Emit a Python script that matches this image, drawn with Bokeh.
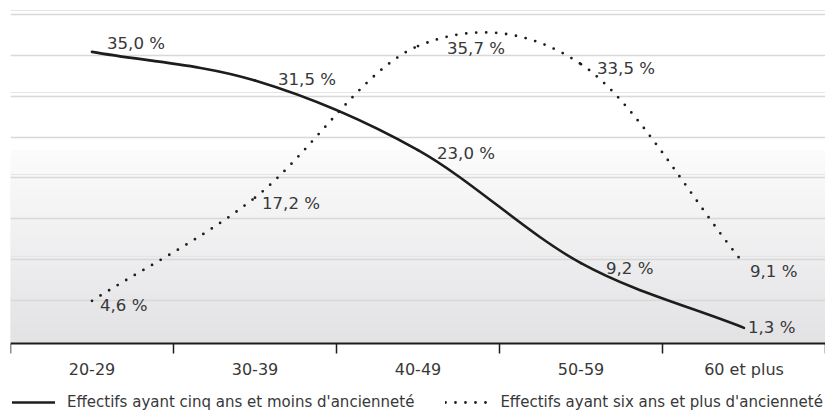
from bokeh.plotting import figure
from bokeh.models import Range1d, FixedTicker, Grid, Legend, LegendItem, ColumnDataSource
from bokeh.core.properties import value
from bokeh.embed import file_html
from bokeh.resources import INLINE

# ---- data ----
categories = ["20-29", "30-39", "40-49", "50-59", "60 et plus"]
cinq_ans_et_moins = [35.0, 31.5, 23.0, 9.2, 1.3]
six_ans_et_plus = [4.6, 17.2, 35.7, 33.5, 9.1]
series_names = ["Effectifs ayant cinq ans et moins d'ancienneté",
                "Effectifs ayant six ans et plus d'ancienneté"]
grid_levels = [4.6, 9.6, 14.6, 19.6, 24.6, 29.6, 34.6, 39.6]

# label placement (pixel offsets from each point: dx right, dy down)
off_cinq = [(15, -8), (23, -1), (19, 3), (25, 5), (4, 0)]
off_six = [(8, 5), (7, 6), (29, 2), (16, 4), (6, 8)]

FONT = "DejaVu Sans"
TXT = "#383838"
INK = "#1d1d1b"

W, H = 825, 410
PX_PER = 8.19          # pixels per percentage point
ZERO_PX = 338          # screen row of value 0
AXIS_PX = 343          # screen row of the x axis line
Y0 = (ZERO_PX - H) / PX_PER
Y1 = ZERO_PX / PX_PER

p = figure(width=W, height=H, x_range=Range1d(0, 5), y_range=Range1d(Y0, Y1),
           output_backend="svg", toolbar_location=None, y_axis_location=None,
           min_border_left=10, min_border_right=0, min_border_top=0,
           min_border_bottom=0)
p.outline_line_color = None
p.background_fill_color = "white"
p.border_fill_color = "white"
p.xgrid.visible = False


def v_of(py):
    return (ZERO_PX - py) / PX_PER


# background gradient in lower part of the plotting area
g_top, g_bot = 150, AXIS_PX
step = 3
tops, bots, cols = [], [], []
py = g_top
while py < g_bot:
    t = (py - g_top) / (g_bot - g_top)
    r = round(251 - t * (251 - 226))
    b = round(251 - t * (251 - 229))
    cols.append("#%02x%02x%02x" % (r, r, b))
    tops.append(v_of(py))
    bots.append(v_of(min(py + step, g_bot)))
    py += step
bg = p.quad(left=0, right=5, top=tops, bottom=bots, fill_color=cols,
            line_color=cols, line_width=1)
bg.level = "image"

p.add_layout(Grid(dimension=1, ticker=FixedTicker(ticks=grid_levels),
                  grid_line_color="#d8d8d8", grid_line_width=1.5))

# x positions at category centres
xs = [i + 0.5 for i in range(len(categories))]


def bezier_segments(x, y):
    n = len(x)
    ext_x = [2 * x[0] - x[1]] + list(x) + [2 * x[-1] - x[-2]]
    ext_y = [2 * y[0] - y[1]] + list(y) + [2 * y[-1] - y[-2]]
    d = dict(x0=[], y0=[], x1=[], y1=[], cx0=[], cy0=[], cx1=[], cy1=[])
    for i in range(n - 1):
        p0x, p0y = ext_x[i], ext_y[i]
        p1x, p1y = ext_x[i + 1], ext_y[i + 1]
        p2x, p2y = ext_x[i + 2], ext_y[i + 2]
        p3x, p3y = ext_x[i + 3], ext_y[i + 3]
        d["x0"].append(p1x); d["y0"].append(p1y)
        d["x1"].append(p2x); d["y1"].append(p2y)
        d["cx0"].append(p1x + (p2x - p0x) / 6); d["cy0"].append(p1y + (p2y - p0y) / 6)
        d["cx1"].append(p2x - (p3x - p1x) / 6); d["cy1"].append(p2y - (p3y - p1y) / 6)
    return ColumnDataSource(d)


r_cinq = p.bezier(x0="x0", y0="y0", x1="x1", y1="y1", cx0="cx0", cy0="cy0",
                  cx1="cx1", cy1="cy1", source=bezier_segments(xs, cinq_ans_et_moins),
                  line_color=INK, line_width=2.6, line_cap="round")
r_six = p.bezier(x0="x0", y0="y0", x1="x1", y1="y1", cx0="cx0", cy0="cy0",
                 cx1="cx1", cy1="cy1", source=bezier_segments(xs, six_ans_et_plus),
                 line_color=INK, line_width=2.8, line_cap="round", line_dash="0 10")


def fmt(v):
    return ("%.1f" % v).replace(".", ",") + " %"


for vals, offs in ((cinq_ans_et_moins, off_cinq), (six_ans_et_plus, off_six)):
    src = ColumnDataSource(dict(x=xs, y=vals, t=[fmt(v) for v in vals],
                                dx=[o[0] for o in offs], dy=[o[1] for o in offs]))
    p.text(x="x", y="y", text="t", x_offset="dx", y_offset="dy", source=src,
           text_font=value(FONT), text_font_size="16.6px", text_color=TXT,
           text_align="left", text_baseline="middle")

# x axis, drawn inside the canvas at the row of the baseline
ax = p.xaxis[0]
ax.fixed_location = v_of(AXIS_PX)
ax.ticker = FixedTicker(ticks=xs, minor_ticks=list(range(len(categories) + 1)))
ax.major_label_overrides = {x: c for x, c in zip(xs, categories)}
ax.major_tick_out = 0
ax.major_tick_in = 0
ax.minor_tick_out = 10
ax.minor_tick_in = 0
ax.minor_tick_line_color = INK
ax.minor_tick_line_width = 1.5
ax.axis_line_color = INK
ax.axis_line_width = 2
ax.major_label_standoff = 6
ax.major_label_text_font = FONT
ax.major_label_text_font_size = "16px"
ax.major_label_text_color = TXT

legend = Legend(items=[LegendItem(label=series_names[0], renderers=[r_cinq]),
                       LegendItem(label=series_names[1], renderers=[r_six])],
                orientation="horizontal", location=(2, -1), padding=0, margin=0,
                spacing=31, glyph_width=43, glyph_height=14, label_height=14,
                label_standoff=12, label_text_font=FONT, label_text_font_size="15px",
                label_text_color=TXT, border_line_color=None, background_fill_alpha=0)
p.add_layout(legend)

open("out.html", "w").write(file_html(p, INLINE))
